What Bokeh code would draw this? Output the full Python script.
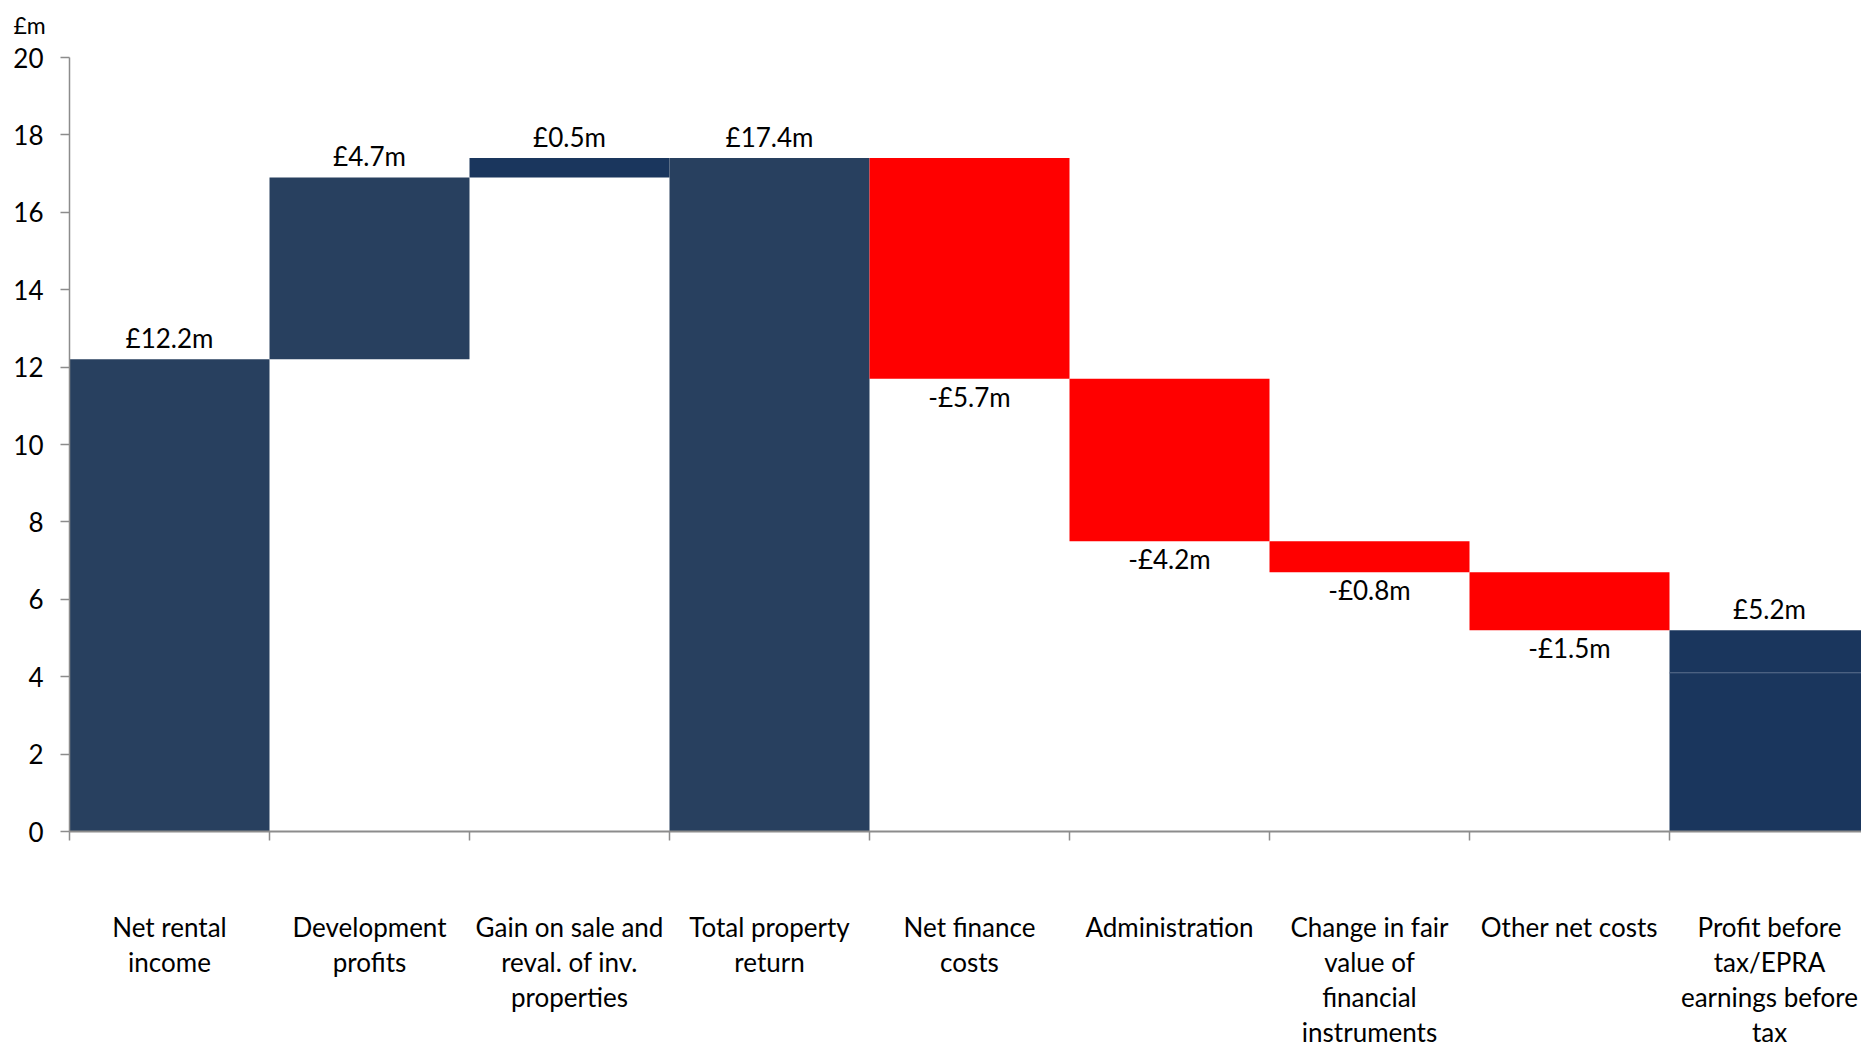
from bokeh.plotting import figure
from bokeh.models import FixedTicker, Range1d, Title, ColumnDataSource
from bokeh.core.properties import value
from bokeh.embed import file_html
from bokeh.resources import INLINE

# ---- data ----
categories = [
    "Net rental\nincome",
    "Development\nprofits",
    "Gain on sale and\nreval. of inv.\nproperties",
    "Total property\nreturn",
    "Net finance\ncosts",
    "Administration",
    "Change in fair\nvalue of\nfinancial\ninstruments",
    "Other net costs",
    "Profit before\ntax/EPRA\nearnings before\ntax",
]
values = [12.2, 4.7, 0.5, 17.4, -5.7, -4.2, -0.8, -1.5, 5.2]
kinds = ["delta", "delta", "delta", "total", "delta", "delta", "delta", "delta", "total"]
labels = ["£12.2m", "£4.7m", "£0.5m", "£17.4m", "-£5.7m", "-£4.2m", "-£0.8m", "-£1.5m", "£5.2m"]
last_split = 4.1  # inner division of the final bar
y_ticks = [0, 2, 4, 6, 8, 10, 12, 14, 16, 18, 20]

NAVY = "#28405f"
DARK = "#1a365d"
RED = "#ff0000"
bar_colors = [NAVY, NAVY, DARK, NAVY, RED, RED, RED, RED, DARK]

# ---- waterfall geometry from values ----
bottoms, tops = [], []
running = 0.0
for v, k in zip(values, kinds):
    if k == "total":
        b, t = 0.0, v
        running = v
    else:
        b, t = (running, running + v) if v >= 0 else (running + v, running)
        running += v
    bottoms.append(b)
    tops.append(t)

n = len(categories)
lefts = [i for i in range(n)]
rights = [i + 1 for i in range(n)]
centers = [i + 0.5 for i in range(n)]

FONT = "Lato"

p = figure(width=1861, height=1051, output_backend="svg", toolbar_location=None,
           x_range=Range1d(0, 8.96), y_range=Range1d(0, 20))
p.min_border_left = 69
p.min_border_right = 0
p.min_border_top = 57
p.min_border_bottom = 220
p.outline_line_color = None
p.background_fill_color = "white"
p.border_fill_color = "white"
p.grid.visible = False

# bars (last bar split in two parts)
qb_src = dict(left=lefts, right=rights, bottom=list(bottoms), top=list(tops), color=bar_colors)
qb_src["bottom"][-1] = last_split
src = ColumnDataSource(qb_src)
p.quad(left="left", right="right", bottom="bottom", top="top", fill_color="color",
       line_color=None, source=src)
p.quad(left=[lefts[-1]], right=[rights[-1]], bottom=[0], top=[last_split],
       fill_color=DARK, line_color=None)
p.segment(x0=[lefts[-1]], x1=[rights[-1]], y0=[last_split], y1=[last_split],
          line_color="#4f6585", line_width=1)

# value labels
lab_y = [t if v >= 0 else b for v, b, t in zip(values, bottoms, tops)]
lab_off = [-21 if v >= 0 else 18 for v in values]
p.text(x=centers, y=lab_y, text=labels, y_offset=lab_off,
       text_align="center", text_baseline="middle",
       text_font=value(FONT), text_font_size="26px", text_color="black")

# axes
xa = p.xaxis[0]
xa.ticker = FixedTicker(ticks=centers, minor_ticks=list(range(n + 1)))
xa.major_label_overrides = {c: lab for c, lab in zip(centers, categories)}
xa.major_tick_out = 0
xa.major_tick_in = 0
xa.minor_tick_out = 9
xa.minor_tick_in = 0
xa.minor_tick_line_color = "#8c8c8c"
xa.minor_tick_line_width = 1.5
xa.axis_line_color = "#8c8c8c"
xa.axis_line_width = 2
xa.major_label_standoff = 70
xa.major_label_text_font = FONT
xa.major_label_text_font_size = "26px"
xa.major_label_text_color = "black"
xa.major_label_text_line_height = 1.1

ya = p.yaxis[0]
ya.ticker = FixedTicker(ticks=y_ticks)
ya.minor_tick_line_color = None
ya.major_tick_out = 9
ya.major_tick_in = 0
ya.major_tick_line_color = "#8c8c8c"
ya.major_tick_line_width = 1.5
ya.axis_line_color = "#8c8c8c"
ya.axis_line_width = 1.5
ya.major_label_standoff = 17
ya.major_label_text_font = FONT
ya.major_label_text_font_size = "26px"
ya.major_label_text_color = "black"

spacer = Title(text=" ", text_font_size="2px")
p.add_layout(spacer, "above")
unit = Title(text="£m", align="left", offset=-56,
             text_font=FONT, text_font_size="23px", text_color="black",
             text_font_style="normal")
p.add_layout(unit, "above")

open("out.html", "w").write(file_html(p, INLINE))
